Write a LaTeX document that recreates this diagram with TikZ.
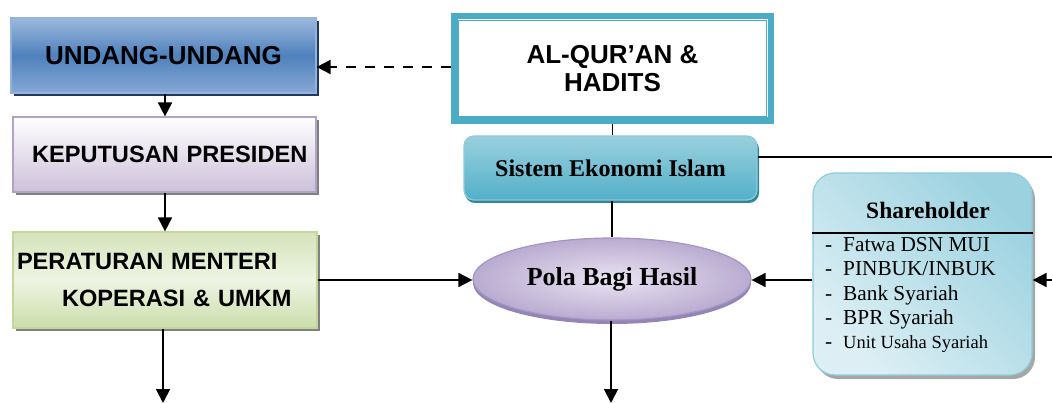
\documentclass[tikz,border=0pt]{standalone}
\usepackage{fontspec}
\setmainfont{Liberation Serif}
\setsansfont{Liberation Sans}
\usetikzlibrary{arrows.meta,calc,shapes.geometric}

\definecolor{ubTop}{HTML}{9CB8DC}
\definecolor{ubMid}{HTML}{4F81BD}
\definecolor{ubBot}{HTML}{86A8D6}
\definecolor{ubLine}{HTML}{95B3D7}
\definecolor{ubShadow}{HTML}{1F3864}
\definecolor{kpBot}{HTML}{CCC0DA}
\definecolor{kpLine}{HTML}{B3A2C7}
\definecolor{pmTop}{HTML}{D5E3BA}
\definecolor{pmMid}{HTML}{EEF4E2}
\definecolor{pmBot}{HTML}{CCDDAB}
\definecolor{pmLine}{HTML}{C3D69B}
\definecolor{teal}{HTML}{4BACC6}
\definecolor{seTop}{HTML}{9AD0DE}
\definecolor{seBot}{HTML}{52B0C8}
\definecolor{seLine}{HTML}{8DCBDB}
\definecolor{seShadow}{HTML}{31859C}
\definecolor{pbIn}{HTML}{E9E4F2}
\definecolor{pbOut}{HTML}{B9ABD0}
\definecolor{pbLine}{HTML}{A496C4}
\definecolor{pbShadow}{HTML}{9385B5}
\definecolor{shLight}{HTML}{DDEFF4}
\definecolor{shDark}{HTML}{9CD2E0}
\definecolor{shLine}{HTML}{8FCCDC}

\tikzset{
  x=1pt, y=-1pt,
  sansbox/.style={font=\sffamily\bfseries\fontsize{23.6}{37}\selectfont, inner sep=0pt},
  conn/.style={line width=1.8pt, black},
  arr/.style={conn, -{Triangle[length=14pt,width=14pt]}},
  gshadow/.style={fill=black!50},
}

\begin{document}
\begin{tikzpicture}
\useasboundingbox (0,0) rectangle (1052,403);

% ---------- left column: legal hierarchy ----------
\fill[ubShadow] (14,21) rectangle (319,96);
\node[sansbox, minimum width=305pt, minimum height=75pt, draw=ubLine, line width=1.2pt,
      top color=ubTop, bottom color=ubBot, middle color=ubMid,
      font=\sffamily\bfseries\fontsize{26}{30}\selectfont]
  (uu) at (163.5,55.5) {UNDANG-UNDANG};

\fill[gshadow] (16,120) rectangle (319,195);
\node[sansbox, minimum width=303pt, minimum height=75pt, draw=kpLine, line width=1.2pt,
      top color=white, bottom color=kpBot, text width=303pt, align=left]
  (kp) at (164.5,154.5) {\hspace*{19pt}KEPUTUSAN PRESIDEN};

\fill[gshadow] (16,235) rectangle (320,331);
\node[sansbox, minimum width=304pt, minimum height=96pt, draw=pmLine, line width=1.2pt,
      top color=pmTop, bottom color=pmBot, middle color=pmMid, text width=304pt, align=left]
  (pm) at (165,280) {\hspace*{4pt}PERATURAN MENTERI\\\hspace*{49pt}KOPERASI \& UMKM};

% ---------- centre column ----------
\node[minimum width=316.5pt, minimum height=104.5pt, draw=teal, line width=6.5pt, fill=white,
      align=center, font=\sffamily\bfseries\fontsize{26}{28}\selectfont]
  (q) at (612.5,68.5) {AL-QUR’AN \&\\HADITS};
\draw[teal, line width=1.8pt] ($(q.north west)+(7.5,7.5)$) rectangle ($(q.south east)+(-7.5,-7.5)$);

\fill[seShadow, rounded corners=10pt] (465,139) rectangle (759,203);
\node[rounded corners=10pt, minimum width=293pt, minimum height=64pt, draw=seLine, line width=1.2pt,
      top color=seTop, bottom color=seBot,
      font=\bfseries\fontsize{24}{28}\selectfont]
  (s) at (610.5,168) {Sistem Ekonomi Islam};

\fill[pbShadow] (612,283) ellipse [x radius=139pt, y radius=41pt];
\node[ellipse, minimum width=278pt, minimum height=82pt, draw=pbLine, line width=1.2pt,
      shading=radial, inner color=pbIn, outer color=pbOut,
      font=\bfseries\fontsize{26}{30}\selectfont]
  (p) at (612,279) {Pola Bagi Hasil};

% ---------- right column ----------
\fill[black!35, rounded corners=22pt] (816,177) rectangle (1035,379);
\node[rounded corners=22pt, minimum width=219pt, minimum height=202pt, draw=shLine, line width=1.2pt,
      shading=axis, left color=shLight, right color=shDark, shading angle=135]
  (sh) at (922.5,274) {};
\node[font=\bfseries\fontsize{23.5}{26}\selectfont] (sht) at (928,210) {Shareholder};
\draw[line width=1.5pt] (sh.west |- 0,233) coordinate (shl) -- (shl -| sh.east);
\node[anchor=north west, align=left, inner sep=0pt, font=\fontsize{21.3}{24.4}\selectfont]
  (shi) at (825,237) {%
  \makebox[18pt][l]{-}Fatwa DSN MUI\\
  \makebox[18pt][l]{-}PINBUK/INBUK\\
  \makebox[18pt][l]{-}Bank Syariah\\
  \makebox[18pt][l]{-}BPR Syariah\\
  \makebox[18pt][l]{-}{\fontsize{18.5}{24.4}\selectfont Unit Usaha Syariah}};

% ---------- connectors ----------
\draw[arr, dash pattern=on 10pt off 9pt] (q.west |- 0,67) coordinate (qw) -- (qw -| uu.east);
\draw[conn] (q.south) -- (q.south |- s.north);
\coordinate (rtop) at (1052,157);
\draw[conn] (s.east |- rtop) -- (rtop);
\draw[conn] (s.south -| p.north) -- (p.north);

\coordinate (lcol) at (165,0);
\draw[arr] (lcol |- uu.south) -- (lcol |- kp.north);
\draw[arr] (lcol |- kp.south) -- (lcol |- pm.north);
\coordinate (pmout) at (163,403);
\draw[arr] (pmout |- pm.south) -- (pmout);

\draw[arr] (pm.east) -- (pm.east -| p.west);
\draw[arr] (sh.west |- pm.east) -- (pm.east -| p.east);
\coordinate (rin) at (1052,280);
\draw[arr] (rin) -- (rin -| sh.east);

\coordinate (pout) at (611,403);
\draw[arr] (pout |- p.south) -- (pout);
\end{tikzpicture}
\end{document}
